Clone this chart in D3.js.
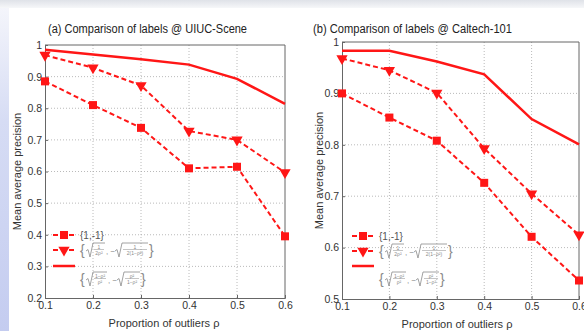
<!DOCTYPE html>
<html>
<head>
<meta charset="utf-8">
<script src="https://cdn.jsdelivr.net/npm/d3@7"></script>
<style>
  body { margin: 0; background: #fff; }
  text { font-family: "Liberation Sans", Arial, sans-serif; }
</style>
</head>
<body>
<div id="chart"></div>
<script>
// data
const outliers = [0.1, 0.2, 0.3, 0.4, 0.5, 0.6];

const uiucSquare = [0.885, 0.81, 0.738, 0.61, 0.615, 0.395];
const uiucTri    = [0.968, 0.928, 0.872, 0.728, 0.700, 0.597];
const uiucSolid  = [0.985, 0.970, 0.955, 0.938, 0.893, 0.814];

const calSquare = [0.900, 0.853, 0.808, 0.726, 0.621, 0.536];
const calTri    = [0.968, 0.945, 0.901, 0.793, 0.705, 0.625];
const calSolid  = [0.983, 0.983, 0.962, 0.937, 0.850, 0.801];

const yTicksA = [0.2, 0.3, 0.4, 0.5, 0.6, 0.7, 0.8, 0.9, 1];
const yTicksB = [0.5, 0.6, 0.7, 0.8, 0.9, 1];
const xTicks = [0.1, 0.2, 0.3, 0.4, 0.5, 0.6];

const titles = ["(a) Comparison of labels @ UIUC-Scene", "(b) Comparison of labels @ Caltech-101"];

const W = 584, H = 331;
const red = "#ff1616";

const svg = d3.select("#chart").append("svg")
  .attr("width", W).attr("height", H);

// slide background bits
const defs = svg.append("defs");
const tg = defs.append("linearGradient").attr("id", "topg").attr("x1", 0).attr("y1", 0).attr("x2", 0).attr("y2", 1);
tg.append("stop").attr("offset", 0).attr("stop-color", "#dfe2e8");
tg.append("stop").attr("offset", 1).attr("stop-color", "#f6f7f9");
const lg = defs.append("linearGradient").attr("id", "leftg").attr("x1", 0).attr("y1", 0).attr("x2", 0).attr("y2", 1);
lg.append("stop").attr("offset", 0).attr("stop-color", "#f4f5fb");
lg.append("stop").attr("offset", 0.35).attr("stop-color", "#d6dcf4");
lg.append("stop").attr("offset", 1).attr("stop-color", "#c4ccf0");
svg.append("rect").attr("width", W).attr("height", H).attr("fill", "#fff");
svg.append("rect").attr("width", W).attr("height", 8).attr("fill", "url(#topg)");
svg.append("rect").attr("y", 8).attr("width", 9).attr("height", H - 8).attr("fill", "url(#leftg)");

const panels = [
  { left: 45, right: 285, top: 45, bottom: 298, yDomain: [0.2, 1], yTicks: yTicksA,
    series: [uiucSquare, uiucTri, uiucSolid], titleX: 48, titleY: 33, xlabX: 164, xlabY: 327, ylabX: 21,
    legX: 53, legY: [235, 250, 266] },
  { left: 342, right: 579, top: 42, bottom: 299, yDomain: [0.5, 1], yTicks: yTicksB,
    series: [calSquare, calTri, calSolid], titleX: 313, titleY: 33, xlabX: 457, xlabY: 328, ylabX: 323,
    legX: 352, legY: [236, 251, 266] }
];

function fmt(v) { return Math.abs(v - 1) < 1e-9 ? "1" : d3.format(".1f")(v); }

// little square-root term for the legend formulas
function radical(g, x, y, num, den, w) {
  g.append("path")
    .attr("d", `M${x},${y + 1}L${x + 2},${y - 0.5}L${x + 4},${y + 7}L${x + 7},${y - 7}L${x + 9 + w},${y - 7}`)
    .attr("fill", "none").attr("stroke", "#8a8a8a").attr("stroke-width", 0.8);
  g.append("text").attr("x", x + 8 + w / 2).attr("y", y - 1.5).attr("text-anchor", "middle")
    .attr("font-size", 5).attr("fill", "#8a8a8a").text(num);
  g.append("line").attr("x1", x + 8).attr("x2", x + 8 + w).attr("y1", y - 0.5).attr("y2", y - 0.5)
    .attr("stroke", "#8a8a8a").attr("stroke-width", 0.5);
  g.append("text").attr("x", x + 8 + w / 2).attr("y", y + 5).attr("text-anchor", "middle")
    .attr("font-size", 5).attr("fill", "#8a8a8a").text(den);
  return x + 9 + w;
}

function formula(g, x, y, terms) {
  const gray = "#8a8a8a";
  g.append("text").attr("x", x).attr("y", y + 5).attr("font-size", 14).attr("fill", gray)
    .attr("font-weight", 300).text("{");
  let cx = x + 6;
  cx = radical(g, cx, y, terms[0][0], terms[0][1], terms[0][2]);
  g.append("text").attr("x", cx + 1).attr("y", y + 4).attr("font-size", 8).attr("fill", gray).text(", −");
  cx = radical(g, cx + 10, y, terms[1][0], terms[1][1], terms[1][2]);
  g.append("text").attr("x", cx + 1).attr("y", y + 5).attr("font-size", 14).attr("fill", gray).text("}");
}

panels.forEach((p, i) => {
  const x = d3.scaleLinear().domain([0.1, 0.6]).range([p.left, p.right]);
  const y = d3.scaleLinear().domain(p.yDomain).range([p.bottom, p.top]);
  const g = svg.append("g");

  // dotted grid
  g.append("g").selectAll("line").data(xTicks.slice(1, -1)).enter().append("line")
    .attr("x1", d => x(d)).attr("x2", d => x(d)).attr("y1", p.top).attr("y2", p.bottom)
    .attr("stroke", "#a8a8a8").attr("stroke-width", 0.8).attr("stroke-dasharray", "1,2");
  g.append("g").selectAll("line").data(p.yTicks.slice(1, -1)).enter().append("line")
    .attr("x1", p.left).attr("x2", p.right).attr("y1", d => y(d)).attr("y2", d => y(d))
    .attr("stroke", "#a8a8a8").attr("stroke-width", 0.8).attr("stroke-dasharray", "1,2");

  // axes (matlab style: ticks inside, box)
  const ax = g.append("g").attr("transform", `translate(0,${p.bottom})`)
    .call(d3.axisBottom(x).tickValues(xTicks).tickSize(-3).tickPadding(4).tickFormat(fmt));
  const ay = g.append("g").attr("transform", `translate(${p.left},0)`)
    .call(d3.axisLeft(y).tickValues(p.yTicks).tickSize(-3).tickPadding(3).tickFormat(fmt));
  [ax, ay].forEach(a => {
    a.select(".domain").attr("stroke", "#666");
    a.selectAll(".tick line").attr("stroke", "#666");
    a.selectAll("text").attr("font-size", 10.5).attr("fill", "#333")
      .attr("font-family", "'Liberation Sans', Arial, sans-serif");
  });
  g.append("path")
    .attr("d", `M${p.left},${p.top}H${p.right}V${p.bottom}`)
    .attr("fill", "none").attr("stroke", "#666");

  // title and labels
  svg.append("text").attr("x", p.titleX).attr("y", p.titleY)
    .attr("font-size", 12.5).attr("fill", "#222")
    .attr("textLength", 199).attr("lengthAdjust", "spacingAndGlyphs")
    .text(titles[i]);
  svg.append("text").attr("x", p.xlabX).attr("y", p.xlabY).attr("text-anchor", "middle")
    .attr("font-size", 11).attr("fill", "#333").text("Proportion of outliers ρ");
  svg.append("text").attr("transform", `translate(${p.ylabX},${(p.top + p.bottom) / 2}) rotate(-90)`)
    .attr("text-anchor", "middle").attr("font-size", 11).attr("fill", "#333")
    .text("Mean average precision");

  const line = d3.line().x((d, j) => x(outliers[j])).y(d => y(d));
  const [sq, tri, sol] = p.series;

  g.append("path").datum(sol).attr("d", line)
    .attr("fill", "none").attr("stroke", red).attr("stroke-width", 2.5);
  [sq, tri].forEach(s => {
    g.append("path").datum(s).attr("d", line)
      .attr("fill", "none").attr("stroke", red).attr("stroke-width", 2).attr("stroke-dasharray", "5,3");
  });

  g.append("g").selectAll("rect").data(sq).enter().append("rect")
    .attr("x", (d, j) => x(outliers[j]) - 4).attr("y", d => y(d) - 4)
    .attr("width", 8).attr("height", 8).attr("fill", red);
  const triSym = d3.symbol().type(d3.symbolTriangle).size(55);
  g.append("g").selectAll("path").data(tri).enter().append("path")
    .attr("d", triSym)
    .attr("transform", (d, j) => `translate(${x(outliers[j])},${y(d)}) rotate(180)`)
    .attr("fill", red);

  // legend
  const lgd = svg.append("g");
  const lx = p.legX, ly = p.legY;
  lgd.append("line").attr("x1", lx).attr("x2", lx + 22).attr("y1", ly[0]).attr("y2", ly[0])
    .attr("stroke", red).attr("stroke-width", 2).attr("stroke-dasharray", "5,3");
  lgd.append("rect").attr("x", lx + 7).attr("y", ly[0] - 4).attr("width", 8).attr("height", 8).attr("fill", red);
  lgd.append("line").attr("x1", lx).attr("x2", lx + 22).attr("y1", ly[1]).attr("y2", ly[1])
    .attr("stroke", red).attr("stroke-width", 2).attr("stroke-dasharray", "5,3");
  lgd.append("path").attr("d", triSym).attr("transform", `translate(${lx + 11},${ly[1]}) rotate(180)`).attr("fill", red);
  lgd.append("line").attr("x1", lx).attr("x2", lx + 22).attr("y1", ly[2]).attr("y2", ly[2])
    .attr("stroke", red).attr("stroke-width", 2.5);

  lgd.append("text").attr("x", lx + 27).attr("y", ly[0] + 4).attr("font-size", 10).attr("fill", "#555").text("{1,-1}");
  formula(lgd, lx + 27, ly[1], [["1", "2ρ²", 10], ["1", "2(1−ρ²)", 24]]);
  formula(lgd, lx + 27, ly[2] + 13, [["1−ρ²", "ρ²", 12], ["ρ²", "1−ρ²", 14]]);
});
</script>
</body>
</html>
